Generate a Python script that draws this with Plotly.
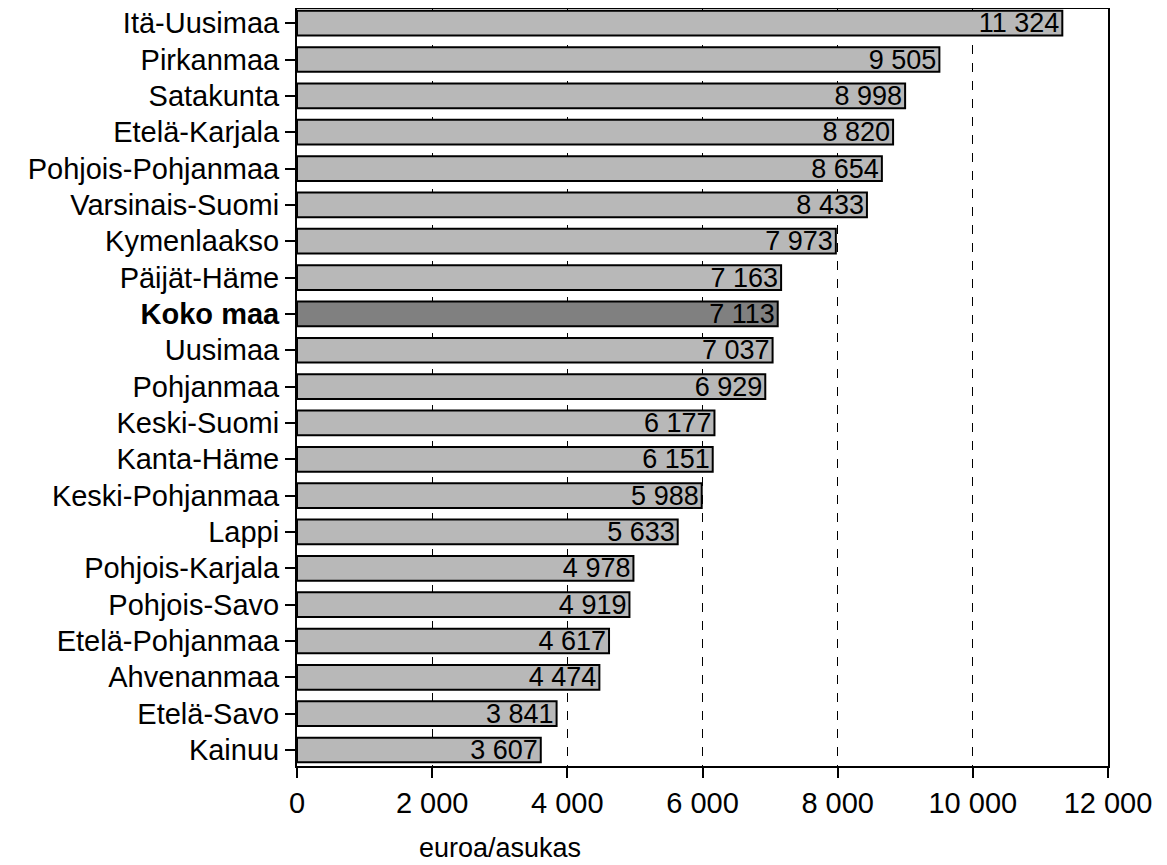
import plotly.graph_objects as go

regions = ["Itä-Uusimaa", "Pirkanmaa", "Satakunta", "Etelä-Karjala", "Pohjois-Pohjanmaa",
           "Varsinais-Suomi", "Kymenlaakso", "Päijät-Häme", "<b>Koko maa</b>", "Uusimaa",
           "Pohjanmaa", "Keski-Suomi", "Kanta-Häme", "Keski-Pohjanmaa", "Lappi",
           "Pohjois-Karjala", "Pohjois-Savo", "Etelä-Pohjanmaa", "Ahvenanmaa", "Etelä-Savo", "Kainuu"]
values = [11324, 9505, 8998, 8820, 8654, 8433, 7973, 7163, 7113, 7037,
          6929, 6177, 6151, 5988, 5633, 4978, 4919, 4617, 4474, 3841, 3607]
x_ticks = [0, 2000, 4000, 6000, 8000, 10000, 12000]
x_ticktext = ["0", "2 000", "4 000", "6 000", "8 000", "10 000", "12 000"]

labels = [f"{v:,}".replace(",", " ") for v in values]
colors = ["#808080" if "Koko" in r else "#b8b8b8" for r in regions]

FONT = "Arial, Liberation Sans, sans-serif"

fig = go.Figure(go.Bar(
    x=values, y=regions, orientation="h",
    marker=dict(color=colors, line=dict(color="black", width=2)),
    width=0.68,
    text=labels, textposition="inside", insidetextanchor="end",
    constraintext="none",
    textfont=dict(family=FONT, size=27, color="black"),
    cliponaxis=False,
))

fig.update_layout(
    width=1159, height=857,
    margin=dict(l=289, r=59, t=1, b=99, autoexpand=False),
    plot_bgcolor="white", paper_bgcolor="white",
    font=dict(family=FONT, color="black"),
    showlegend=False,
    annotations=[dict(
        text="euroa/asukas", xref="paper", yref="paper",
        x=0.25, y=-0.108, xanchor="center", yanchor="middle",
        showarrow=False, font=dict(family=FONT, size=27, color="black"),
    )],
)
fig.update_xaxes(
    range=[0, 12000], tickvals=x_ticks, ticktext=x_ticktext,
    tickfont=dict(size=29), ticks="outside", ticklen=10, tickwidth=1.5, tickcolor="black",
    showline=True, linecolor="black", linewidth=2, mirror=True,
    showgrid=True, gridcolor="black", griddash="dash", gridwidth=1.2,
    zeroline=False, automargin=False,
)
fig.update_yaxes(
    type="category", categoryorder="array", categoryarray=regions,
    range=[20.44, -0.39],
    tickfont=dict(size=29), ticks="outside", ticklen=10, tickwidth=1.5, tickcolor="black",
    showline=True, linecolor="black", linewidth=2, mirror=True,
    showgrid=False, automargin=False,
)

fig.write_html("out.html")
